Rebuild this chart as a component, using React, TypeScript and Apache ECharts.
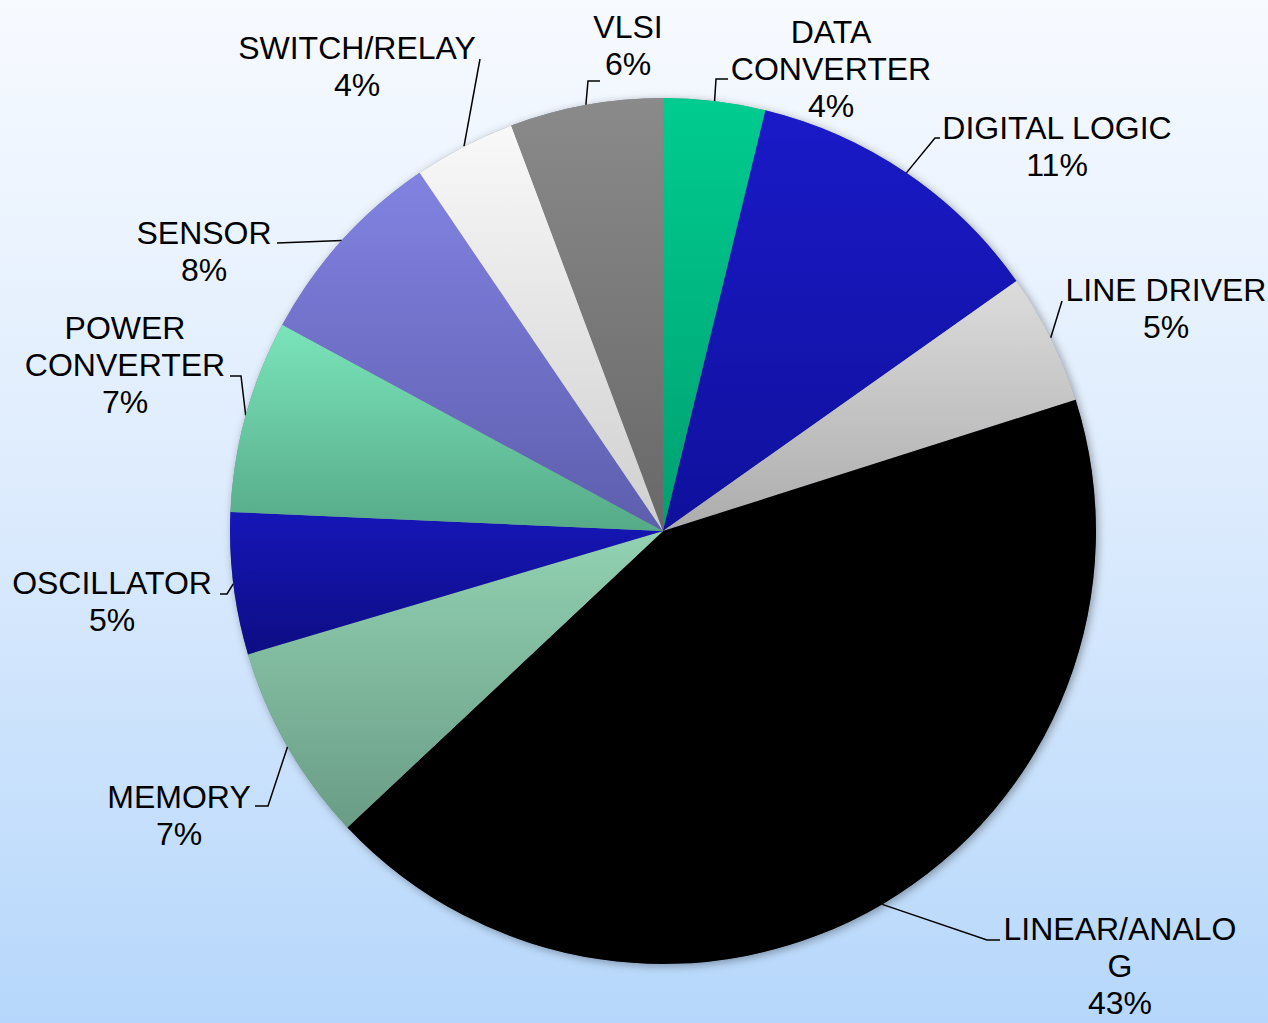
import React, { useEffect, useRef } from "react";
import * as echarts from "echarts";

const categories = [
  "DATA CONVERTER",
  "DIGITAL LOGIC",
  "LINE DRIVER",
  "LINEAR/ANALOG",
  "MEMORY",
  "OSCILLATOR",
  "POWER CONVERTER",
  "SENSOR",
  "SWITCH/RELAY",
  "VLSI",
];
const labelTexts = [
  "DATA\nCONVERTER",
  "DIGITAL LOGIC",
  "LINE DRIVER",
  "LINEAR/ANALO\nG",
  "MEMORY",
  "OSCILLATOR",
  "POWER\nCONVERTER",
  "SENSOR",
  "SWITCH/RELAY",
  "VLSI",
];
const shares = [3.8, 11.4, 4.9, 42.9, 7.4, 5.3, 7.2, 7.6, 3.8, 5.7];
const topColors = ["#00cc90", "#1a1ac8", "#dcdcdc", "#000000", "#92d2b2", "#1616b8", "#7ae4ba", "#8282e2", "#f9f9f9", "#8a8a8a"];
const bottomColors = ["#00a070", "#10109c", "#acacac", "#000000", "#6a9c86", "#0d0d84", "#56aa88", "#5e5eae", "#cfcfcf", "#686868"];

// label layout (positions only)
const labelCenters: [number, number][] = [
  [831, 69], [1057, 146], [1166, 308], [1120, 966], [179, 815],
  [112, 601], [125, 365], [204, 251], [357, 66], [628, 45],
];
const labelElbows: [number, number][][] = [
  [[716, 79], [728, 79]],
  [[935, 138], [940, 138]],
  [[1062, 301]],
  [[987, 940], [1000, 940]],
  [[268, 806], [255, 806]],
  [[227, 594], [220, 594]],
  [[241, 376], [230, 376]],
  [[277, 243]],
  [[480, 59]],
  [[588, 81], [600, 81]],
];

export default function App() {
  const ref = useRef<HTMLDivElement>(null);
  useEffect(() => {
    document.body.style.margin = "0";
    const chart = echarts.init(ref.current!, null, { renderer: "svg" });
    const data = categories.map((name, i) => ({
      name,
      value: shares[i],
      itemStyle: {
        color: new echarts.graphic.LinearGradient(0, 0, 0, 1, [
          { offset: 0, color: topColors[i] },
          { offset: 1, color: bottomColors[i] },
        ]),
      },
    }));
    chart.setOption({
      animation: false,
      backgroundColor: new echarts.graphic.LinearGradient(0, 0, 0, 1, [
        { offset: 0, color: "#f7faff" },
        { offset: 0.5, color: "#dcebfd" },
        { offset: 1, color: "#b6d7fb" },
      ]),
      series: [
        {
          type: "pie",
          silent: true,
          center: [663, 531],
          radius: 433,
          startAngle: 90,
          z: 1,
          label: { show: false },
          labelLine: { show: false },
          itemStyle: {
            color: "#7a8aa0",
            shadowBlur: 8,
            shadowOffsetX: 2,
            shadowOffsetY: 2,
            shadowColor: "rgba(0,0,0,0.35)",
          },
          data: categories.map((name, i) => ({ name, value: shares[i] })),
        },
        {
          type: "pie",
          center: [663, 531],
          radius: 433,
          startAngle: 90,
          z: 2,
          percentPrecision: 0,
          data,
          label: {
            show: true,
            position: "outside",
            formatter: (p: any) => `${labelTexts[p.dataIndex]}\n${p.percent}%`,
            fontFamily: "'Liberation Sans', Arial, sans-serif",
            fontSize: 32,
            lineHeight: 37,
            color: "#000000",
            align: "center",
            overflow: "none",
            edgeDistance: 0,
          },
          labelLine: {
            show: true,
            lineStyle: { color: "#000000", width: 1.5 },
          },
          labelLayout: (params: any) => {
            const i = params.dataIndex;
            const start = params.labelLinePoints ? params.labelLinePoints[0] : null;
            const pts = start ? [start, ...labelElbows[i]] : undefined;
            return {
              x: labelCenters[i][0],
              y: labelCenters[i][1],
              align: "center",
              verticalAlign: "middle",
              labelLinePoints: pts,
            };
          },
        },
      ],
    });
    return () => chart.dispose();
  }, []);
  return <div ref={ref} style={{ width: 1268, height: 1023 }} />;
}
